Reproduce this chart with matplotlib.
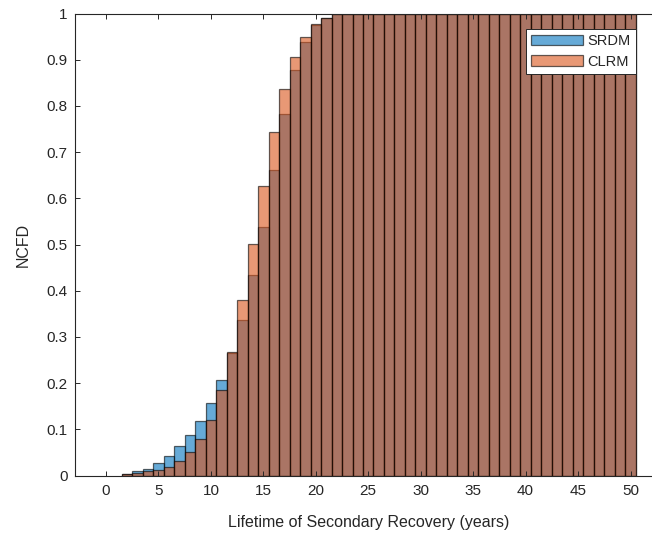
import matplotlib
matplotlib.use("Agg")
import matplotlib.pyplot as plt
from matplotlib.patches import Patch

# Histogram bin centres (years), unit-width bins
bins = [2, 3, 4, 5, 6, 7, 8, 9, 10, 11, 12, 13, 14, 15, 16, 17, 18, 19, 20,
        21, 22, 23, 24, 25, 26, 27, 28, 29, 30, 31, 32, 33, 34, 35, 36, 37,
        38, 39, 40, 41, 42, 43, 44, 45, 46, 47, 48, 49, 50]

# Normalised cumulative frequency per bin
srdm = [0.003, 0.009, 0.015, 0.028, 0.043, 0.063, 0.087, 0.118, 0.156, 0.206,
        0.265, 0.337, 0.433, 0.538, 0.662, 0.782, 0.878, 0.939, 0.976, 0.990,
        0.998, 1.0, 1.0, 1.0, 1.0, 1.0, 1.0, 1.0, 1.0, 1.0, 1.0, 1.0, 1.0,
        1.0, 1.0, 1.0, 1.0, 1.0, 1.0, 1.0, 1.0, 1.0, 1.0, 1.0, 1.0, 1.0, 1.0,
        1.0, 1.0]
clrm = [0.003, 0.006, 0.009, 0.012, 0.019, 0.031, 0.050, 0.079, 0.121, 0.184,
        0.268, 0.379, 0.502, 0.627, 0.744, 0.837, 0.905, 0.950, 0.977, 0.990,
        0.998, 1.0, 1.0, 1.0, 1.0, 1.0, 1.0, 1.0, 1.0, 1.0, 1.0, 1.0, 1.0,
        1.0, 1.0, 1.0, 1.0, 1.0, 1.0, 1.0, 1.0, 1.0, 1.0, 1.0, 1.0, 1.0, 1.0,
        1.0, 1.0]

series_names = ["SRDM", "CLRM"]
xticks = [0, 5, 10, 15, 20, 25, 30, 35, 40, 45, 50]
yticks = [0, 0.1, 0.2, 0.3, 0.4, 0.5, 0.6, 0.7, 0.8, 0.9, 1]
ytick_labels = ["0", "0.1", "0.2", "0.3", "0.4", "0.5", "0.6", "0.7", "0.8", "0.9", "1"]

BLUE = (0.0, 0.447, 0.741)
ORANGE = (0.85, 0.325, 0.098)
ALPHA = 0.6
TXT = (0.15, 0.15, 0.15)

plt.rcParams["font.family"] = ["Liberation Sans", "DejaVu Sans"]

W, H = 652, 536
fig = plt.figure(figsize=(W / 100, H / 100), dpi=100)
left, right, top, bottom = 74.5, 662.0, 13.5, 475.5
ax = fig.add_axes([left / W, 1 - bottom / H, (right - left) / W, (bottom - top) / H])

ax.bar(bins, srdm, width=1.0, color=BLUE, alpha=ALPHA, edgecolor="black",
       linewidth=0.9, align="center")
ax.bar(bins, clrm, width=1.0, color=ORANGE, alpha=ALPHA, edgecolor="black",
       linewidth=0.9, align="center")

ax.set_xlim(-3, 53)
ax.set_ylim(0, 1)
ax.set_xticks(xticks)
ax.set_yticks(yticks)
ax.set_yticklabels(ytick_labels)

for s in ax.spines.values():
    s.set_color(TXT)
    s.set_linewidth(0.8)
ax.tick_params(axis="both", direction="in", length=3.3, width=0.7, color=TXT,
               labelcolor=TXT, labelsize=11, top=True, right=True)
ax.tick_params(axis="x", pad=6)
ax.tick_params(axis="y", pad=5)

ax.set_xlabel("Lifetime of Secondary Recovery (years)", fontsize=11.5, color=TXT)
ax.set_ylabel("NCFD", fontsize=11.5, color=TXT)
ax.xaxis.set_label_coords(0.5, -0.085)
ax.yaxis.set_label_coords(-0.074, 0.5)

handles = [Patch(facecolor=BLUE, alpha=ALPHA, edgecolor="black", linewidth=0.9),
           Patch(facecolor=ORANGE, alpha=ALPHA, edgecolor="black", linewidth=0.9)]
leg = ax.legend(handles, series_names, loc="upper right",
                bbox_to_anchor=(636 / W, 1 - 29 / H), bbox_transform=fig.transFigure,
                fontsize=10.5, frameon=True, fancybox=False, framealpha=1,
                edgecolor=TXT, handlelength=3.6, handleheight=0.75,
                handletextpad=0.3, borderpad=0.35, labelspacing=0.45,
                borderaxespad=0)
leg.get_frame().set_linewidth(0.7)
for t in leg.get_texts():
    t.set_color(TXT)

fig.savefig("out.png", dpi=100)
